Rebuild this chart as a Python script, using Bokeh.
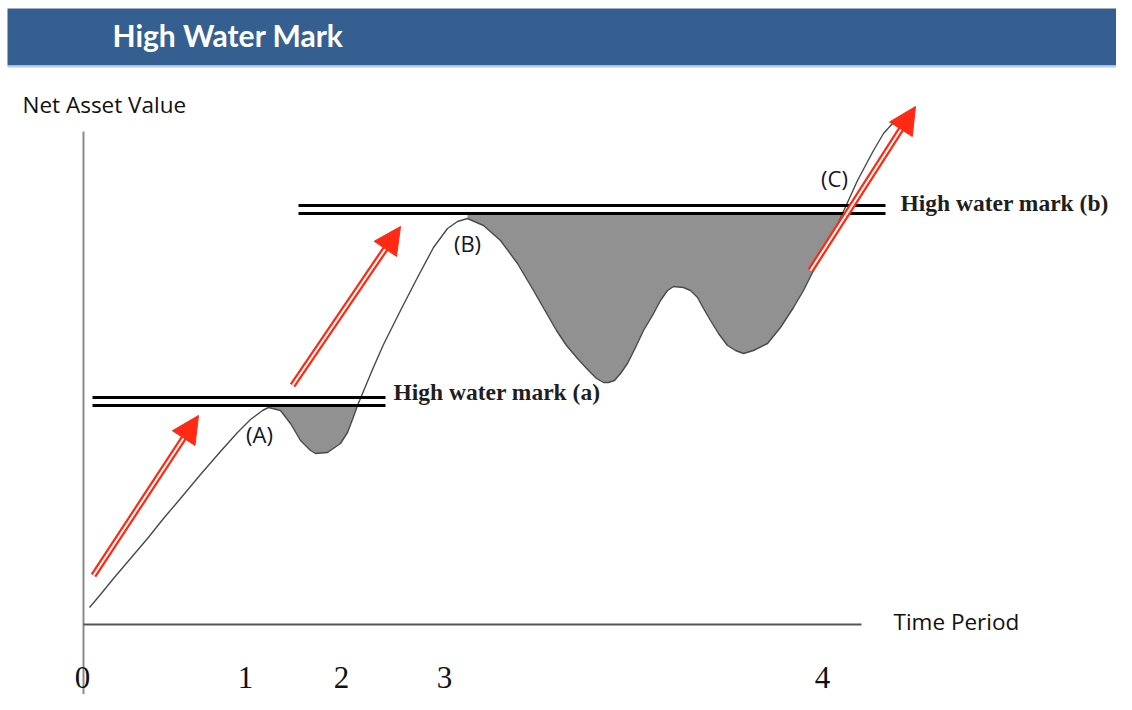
from bokeh.plotting import figure
from bokeh.models import Range1d, Arrow, NormalHead
from bokeh.core.properties import value
from bokeh.embed import file_html
from bokeh.resources import INLINE
import numpy as np

# ---------------- data (x = time position, nav = net asset value, arbitrary units) -------------
curve_x = [89, 100, 113, 130, 147, 163, 180, 200, 220, 237, 250, 262, 268,
           280, 290, 300, 310, 315, 327, 340, 347, 352, 357, 362, 367, 372, 383, 400, 417,
           433, 447, 457, 467,
           483, 500, 517, 533, 545, 556, 566, 577, 588, 596, 603, 608, 614, 620, 627, 635,
           643, 652, 660, 667, 673, 683, 690, 697, 703, 710, 718, 727, 735, 743, 753, 767,
           780, 793, 803, 813, 820, 827, 842, 857, 873, 883, 892]
curve_nav = [95, 108, 124, 144, 164, 184, 204, 228, 251, 270, 283, 292, 295,
             292, 279, 262, 252, 249, 250, 259, 270, 283, 297, 309, 321, 333, 358, 392, 425,
             455, 474, 481, 484,
             477, 462, 439, 412, 391, 372, 357, 344, 332, 324, 320, 320, 322, 329, 339, 355,
             372, 387, 402, 412, 416, 415, 412, 405, 394, 382, 369, 357, 352, 349, 352, 359,
             375, 395, 412, 432, 444, 455, 489, 522, 552, 569, 579]

hwm_levels = [297, 489]             # high water mark (a), (b)
hwm_start = [92, 298]
hwm_end = [385, 885]
hwm_labels = ["High water mark (a)", "High water mark (b)"]
hwm_label_x = [393, 900]
hwm_label_y = [311, 500]
drawdown_start = [268, 467]         # peaks A and B
drawdown_end = [357, 842]           # recovery points

arrow_x0 = [93, 292, 810]
arrow_y0 = [127, 317, 432]
arrow_x1 = [198, 400, 915]
arrow_y1 = [287, 476, 596]

point_labels = ["(A)", "(B)", "(C)"]
point_x = [259, 467, 834]
point_y = [269, 460, 525]

tick_pos = [82, 245, 341, 444, 822]
tick_labels = ["0", "1", "2", "3", "4"]

title = "High Water Mark"
y_title = "Net Asset Value"
x_title = "Time Period"

# ---------------- figure ----------------
p = figure(width=1116, height=694, x_range=Range1d(0, 1116), y_range=Range1d(8, 702),
           output_backend="svg", toolbar_location=None, x_axis_location=None,
           y_axis_location=None, min_border=0, outline_line_color=None,
           background_fill_color="white", border_fill_color="white")
p.xgrid.visible = False
p.ygrid.visible = False

# title band
p.quad(left=[7], right=[1116], bottom=[637], top=[694], fill_color="#365f91", line_color=None)
p.segment(x0=[7], y0=[636], x1=[1116], y1=[636], line_color="#b8cce4", line_width=2)
p.text(x=[112], y=[668], text=[title], text_font=value("Lato"), text_font_style="bold",
       text_font_size="30px", text_color="white", text_baseline="middle", text_align="left")

# axes
p.segment(x0=[83], y0=[571], x1=[83], y1=[-10], line_color="#8a8a8a", line_width=2)
p.segment(x0=[83], y0=[78], x1=[861], y1=[78], line_color="#555555", line_width=2)
p.text(x=[22], y=[598], text=[y_title], text_font=value("Open Sans"), text_font_size="22.5px",
       text_color="#111111", text_baseline="middle", text_align="left")
p.text(x=[893], y=[81], text=[x_title], text_font=value("Open Sans"), text_font_size="22.5px",
       text_color="#111111", text_baseline="middle", text_align="left")
p.text(x=tick_pos, y=[25] * len(tick_pos), text=tick_labels, text_font=value("Liberation Serif"),
       text_font_size="31px", text_color="#111111", text_baseline="middle", text_align="center")

# drawdown shading
cx = np.array(curve_x, dtype=float)
cy = np.array(curve_nav, dtype=float)
for lvl, s, e in zip(hwm_levels, drawdown_start, drawdown_end):
    m = (cx >= s) & (cx <= e)
    p.varea(x=cx[m], y1=np.minimum(cy[m], lvl), y2=[lvl] * int(m.sum()),
            fill_color="#919191")

# NAV curve
p.line(curve_x, curve_nav, line_color="#4a4a4a", line_width=1.4, line_join="round")

# high water marks (double lines)
for lvl, s, e, lab, lx, ly in zip(hwm_levels, hwm_start, hwm_end, hwm_labels,
                                  hwm_label_x, hwm_label_y):
    p.segment(x0=[s, s], y0=[lvl, lvl + 8], x1=[e, e], y1=[lvl, lvl + 8],
              line_color="black", line_width=3)
    p.text(x=[lx], y=[ly], text=[lab],
           text_font=value("Liberation Serif"), text_font_style="bold",
           text_font_size="23.5px", text_color="#1e1e1e", text_baseline="middle",
           text_align="left")

# red arrows (double-lined shaft)
for x0, y0, x1, y1 in zip(arrow_x0, arrow_y0, arrow_x1, arrow_y1):
    dx, dy = x1 - x0, y1 - y0
    L = (dx * dx + dy * dy) ** 0.5
    bx, by = x1 - dx / L * 24, y1 - dy / L * 24
    p.segment(x0=[x0], y0=[y0], x1=[bx], y1=[by], line_color="#ff2a14", line_width=6.5)
    p.segment(x0=[x0], y0=[y0], x1=[bx], y1=[by], line_color="white", line_width=2)
    p.add_layout(Arrow(x_start=bx, y_start=by, x_end=x1, y_end=y1, line_alpha=0,
                       end=NormalHead(size=27, fill_color="#ff2a14", line_color="#ff2a14",
                                      line_width=1)))

# point labels
p.text(x=point_x, y=point_y, text=point_labels, text_font=value("Open Sans"),
       text_font_size="22px", text_color="#141428", text_baseline="middle",
       text_align="center")

open("out.html", "w").write(file_html(p, INLINE))
